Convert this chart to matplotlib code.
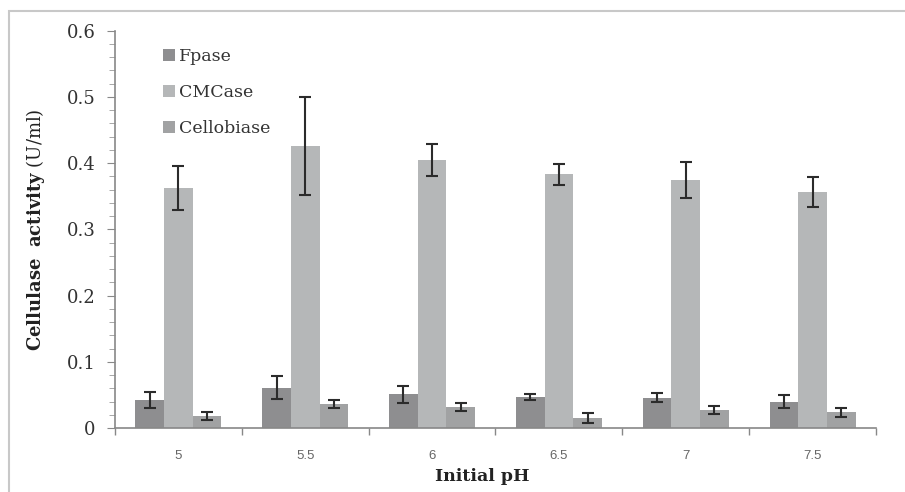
import numpy as np
import matplotlib
matplotlib.use("Agg")
import matplotlib.pyplot as plt
from matplotlib.patches import Rectangle
from matplotlib.ticker import FixedLocator

## Data
ph = ["5", "5.5", "6", "6.5", "7", "7.5"]
fpase = [0.042, 0.061, 0.051, 0.047, 0.046, 0.040]
fpase_err = [0.012, 0.017, 0.013, 0.005, 0.007, 0.010]
cmcase = [0.362, 0.425, 0.405, 0.383, 0.374, 0.356]
cmcase_err = [0.033, 0.074, 0.024, 0.016, 0.027, 0.023]
cello = [0.018, 0.036, 0.032, 0.015, 0.027, 0.024]
cello_err = [0.006, 0.006, 0.006, 0.007, 0.006, 0.007]
yticks = [0, 0.1, 0.2, 0.3, 0.4, 0.5, 0.6]
ylabels = ["0", "0.1", "0.2", "0.3", "0.4", "0.5", "0.6"]

series = [("Fpase", fpase, fpase_err, "#8e8e90"),
          ("CMCase", cmcase, cmcase_err, "#b5b7b8"),
          ("Cellobiase", cello, cello_err, "#a1a2a3")]

plt.rcParams["font.family"] = ["DejaVu Serif"]
plt.rcParams["mathtext.fontset"] = "custom"
plt.rcParams["mathtext.rm"] = "DejaVu Serif"
plt.rcParams["mathtext.bf"] = "DejaVu Serif:bold"

fig = plt.figure(figsize=(9.05, 4.92), dpi=100)
ax = fig.add_axes([0.127, 0.130, 0.841, 0.808])

x = np.arange(len(ph))
w = 0.226
for i, (name, vals, errs, col) in enumerate(series):
    ax.bar(x + (i - 1)*w, vals, w, color=col, label=name,
           yerr=errs, error_kw=dict(ecolor="#2b2b2b", elinewidth=1.5, capsize=4, capthick=1.5))

ax.set_xlim(-0.5, len(ph) - 0.5)
ax.set_ylim(0, 0.6)
ax.set_yticks(yticks)
ax.set_yticklabels(ylabels)
ax.yaxis.set_minor_locator(FixedLocator(np.arange(0, 0.601, 0.02)))
ax.set_xticks(x)
ax.set_xticklabels(ph, family="Liberation Sans", fontsize=9.5, color="#666666")
ax.xaxis.set_minor_locator(FixedLocator(np.arange(-0.5, len(ph), 1.0)))
ax.tick_params(axis="x", which="major", length=0, pad=16)
ax.tick_params(axis="x", which="minor", length=5, color="#888888", width=1)
ax.tick_params(axis="y", which="major", length=6, color="#888888", labelsize=13, pad=8, labelcolor="#333333")
ax.tick_params(axis="y", which="minor", length=4, color="#999999")

for s in ["top", "right"]:
    ax.spines[s].set_visible(False)
for s in ["left", "bottom"]:
    ax.spines[s].set_color("#888888")
    ax.spines[s].set_linewidth(1.2)

ax.set_xlabel("Initial pH", fontsize=12.5, fontweight="bold", color="#222222")
ax.xaxis.set_label_coords(0.482, -0.100)
ax.set_ylabel(r"$\mathbf{Cellulase\ \ activity}$ (U/ml)", fontsize=13, color="#222222", labelpad=14)

ax.legend(loc="upper left", bbox_to_anchor=(0.043, 0.995), frameon=False, fontsize=12.5,
          handlelength=0.65, handleheight=0.65, handletextpad=0.25, labelspacing=1.1,
          labelcolor="#333333")

# light gray frame round the figure
fig.patches.append(Rectangle((9/905, -0.05), 1.1, 1 - 11/492 + 0.05, transform=fig.transFigure,
                             fill=False, edgecolor="#c8c8c8", linewidth=1.5, clip_on=False))

fig.savefig("out.png", dpi=100)
